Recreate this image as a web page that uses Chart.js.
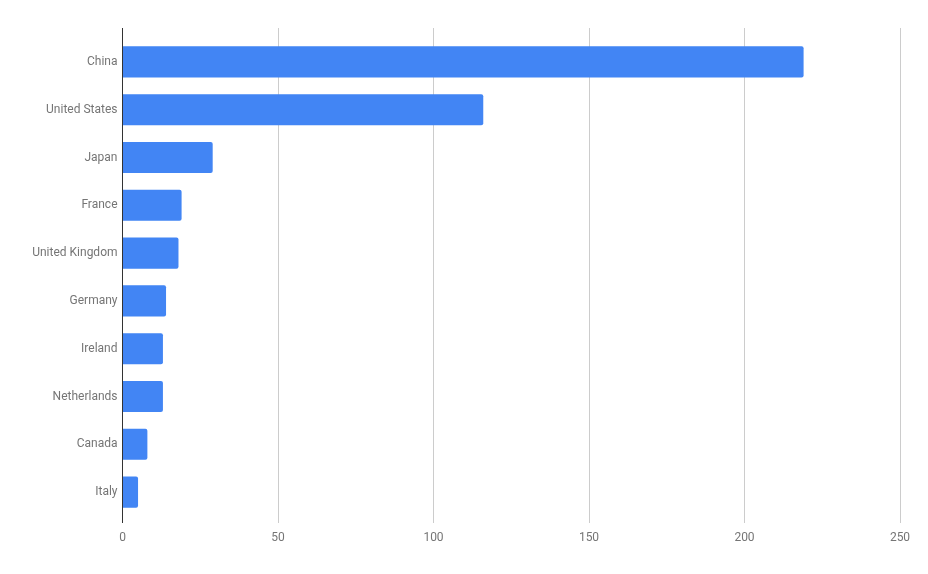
<!DOCTYPE html>
<html>
<head>
<meta charset="utf-8">
<script src="https://cdn.jsdelivr.net/npm/chart.js@4"></script>
<style>
  html, body { margin: 0; padding: 0; background: #fff; }
  #wrap { width: 928px; height: 574px; }
</style>
</head>
<body>
<div id="wrap"><canvas id="chart"></canvas></div>
<script>
const countries = ['China', 'United States', 'Japan', 'France', 'United Kingdom',
    'Germany', 'Ireland', 'Netherlands', 'Canada', 'Italy'];
const values = [219, 116, 29, 19, 18, 14, 13, 13, 8, 5];
const xTicks = [0, 50, 100, 150, 200, 250];

const textColor = '#757575';
const gridColor = ctx => (ctx.tick && ctx.tick.value === 0) ? '#333333' : '#cccccc';

new Chart(document.getElementById('chart'), {
    type: 'bar',
    data: {
        labels: countries,
        datasets: [{
            data: values,
            backgroundColor: '#4285F4',
            borderRadius: 2,
            barPercentage: 0.65,
            categoryPercentage: 1
        }]
    },
    options: {
        indexAxis: 'y',
        responsive: true,
        maintainAspectRatio: false,
        animation: false,
        layout: { padding: { top: 28, right: 28, left: 0, bottom: 0 } },
        plugins: { legend: { display: false }, tooltip: { enabled: false } },
        scales: {
            y: {
                grid: { display: false, drawTicks: false },
                border: { display: false },
                ticks: { color: textColor, padding: 5, font: { family: 'Roboto', size: 12 } },
                afterFit: s => { s.width = 122.5; }
            },
            x: {
                position: 'bottom',
                min: 0,
                max: 250,
                afterBuildTicks: s => { s.ticks = xTicks.map(v => ({ value: v })); },
                grid: { color: gridColor, tickLength: 7, lineWidth: 1 },
                border: { display: false },
                ticks: { color: textColor, padding: 8, font: { family: 'Roboto', size: 12 } },
                afterFit: s => { s.height = 58; }
            },
            xTop: {
                axis: 'x',
                position: 'top',
                min: 0,
                max: 250,
                afterBuildTicks: s => { s.ticks = xTicks.map(v => ({ value: v })); },
                grid: { color: gridColor, tickLength: 10, lineWidth: 1 },
                border: { display: false },
                ticks: { display: false },
                afterFit: s => { s.height = 10; }
            }
        }
    }
});
</script>
</body>
</html>
